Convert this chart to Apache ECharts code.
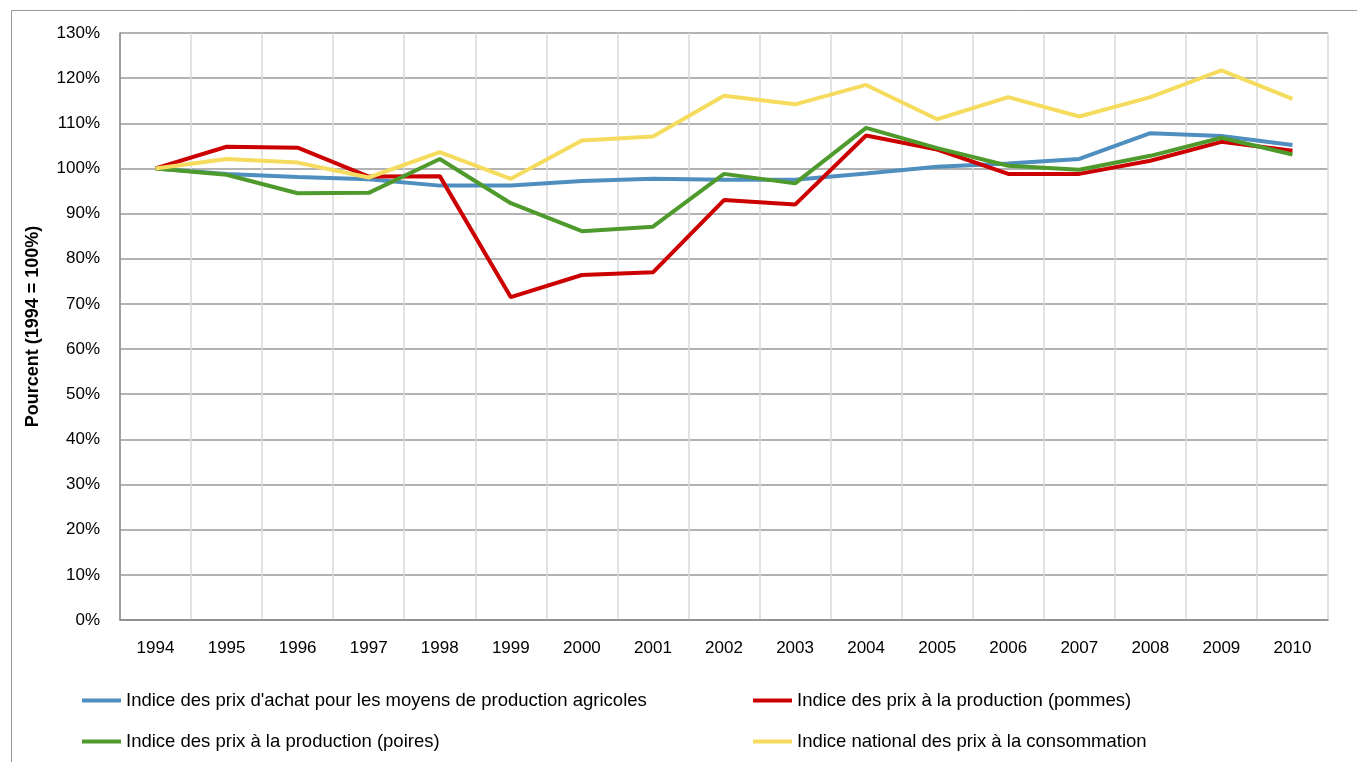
<!DOCTYPE html>
<html>
<head>
<meta charset="utf-8">
<script src="https://cdn.jsdelivr.net/npm/echarts@6/dist/echarts.min.js"></script>
<style>
  html, body { margin: 0; padding: 0; background: #fff; }
  #chart { width: 1357px; height: 762px; }
</style>
</head>
<body>
<div id="chart"></div>
<script>
// years on the x axis
const years = ['1994', '1995', '1996', '1997', '1998', '1999', '2000', '2001', '2002',
  '2003', '2004', '2005', '2006', '2007', '2008', '2009', '2010'];

// index values, percent of 1994
const moyensProduction = [100, 98.8, 98.1, 97.6, 96.2, 96.2, 97.2, 97.7, 97.5,
  97.5, 98.9, 100.4, 101.1, 102.1, 107.8, 107.2, 105.2];
const pommes = [100, 104.8, 104.6, 98.2, 98.3, 71.5, 76.4, 77.0, 93.0,
  92.0, 107.3, 104.2, 98.8, 98.8, 101.7, 105.9, 103.9];
const poires = [100, 98.6, 94.5, 94.6, 102.1, 92.3, 86.1, 87.1, 98.8,
  96.7, 109.0, 104.5, 100.6, 99.7, 102.8, 106.8, 103.1];
const consommation = [100, 102.1, 101.3, 98.0, 103.6, 97.7, 106.2, 107.1, 116.1,
  114.2, 118.5, 110.9, 115.8, 111.5, 115.8, 121.7, 115.4];

const seriesNames = [
  "Indice des prix d'achat pour les moyens de production agricoles",
  'Indice des prix à la production (pommes)',
  'Indice des prix à la production (poires)',
  'Indice national des prix à la consommation'
];

const font = '"Liberation Sans", Arial, sans-serif';

const myChart = echarts.init(document.getElementById('chart'));

const legendBase = {
  orient: 'horizontal',
  icon: 'rect',
  itemWidth: 39,
  itemHeight: 4,
  padding: 0,
  selectedMode: false,
  textStyle: { fontFamily: font, fontSize: 18.5, color: '#000' }
};

const option = {
  animation: false,
  backgroundColor: '#fff',
  graphic: [{
    type: 'rect',
    shape: { x: 11.5, y: 10.5, width: 1400, height: 800 },
    style: { fill: 'none', stroke: '#999', lineWidth: 1 },
    silent: true
  }],
  legend: [
    Object.assign({ left: 82, top: 691, data: [seriesNames[0]] }, legendBase),
    Object.assign({ left: 753, top: 691, data: [seriesNames[1]] }, legendBase),
    Object.assign({ left: 82, top: 732, data: [seriesNames[2]] }, legendBase),
    Object.assign({ left: 753, top: 732, data: [seriesNames[3]] }, legendBase)
  ],
  grid: { left: 120, right: 29, top: 33, bottom: 142 },
  xAxis: {
    type: 'category',
    data: years,
    boundaryGap: true,
    axisLine: { lineStyle: { color: '#888', width: 1.5 } },
    axisTick: { show: false },
    axisLabel: { fontFamily: font, fontSize: 17, color: '#000', margin: 20 },
    splitLine: { show: true, lineStyle: { color: '#d9d9d9', width: 1.5 } }
  },
  yAxis: {
    type: 'value',
    min: 0,
    max: 130,
    interval: 10,
    name: 'Pourcent (1994 = 100%)',
    nameLocation: 'middle',
    nameGap: 78,
    nameTextStyle: { fontFamily: font, fontSize: 18, fontWeight: 'bold', color: '#000' },
    axisLine: { show: true, lineStyle: { color: '#888', width: 1.5 } },
    axisTick: { show: false },
    axisLabel: { fontFamily: font, fontSize: 17, color: '#000', margin: 20, formatter: '{value}%' },
    splitLine: { show: true, lineStyle: { color: '#999', width: 1.5 } }
  },
  series: [
    { name: seriesNames[0], type: 'line', data: moyensProduction, color: '#4F8FC0' },
    { name: seriesNames[1], type: 'line', data: pommes, color: '#CC0000' },
    { name: seriesNames[2], type: 'line', data: poires, color: '#4E9A2C' },
    { name: seriesNames[3], type: 'line', data: consommation, color: '#F5DC5E' }
  ].map(s => Object.assign(s, {
    symbol: 'none',
    lineStyle: { width: 4 }
  }))
};

myChart.setOption(option);
</script>
</body>
</html>
